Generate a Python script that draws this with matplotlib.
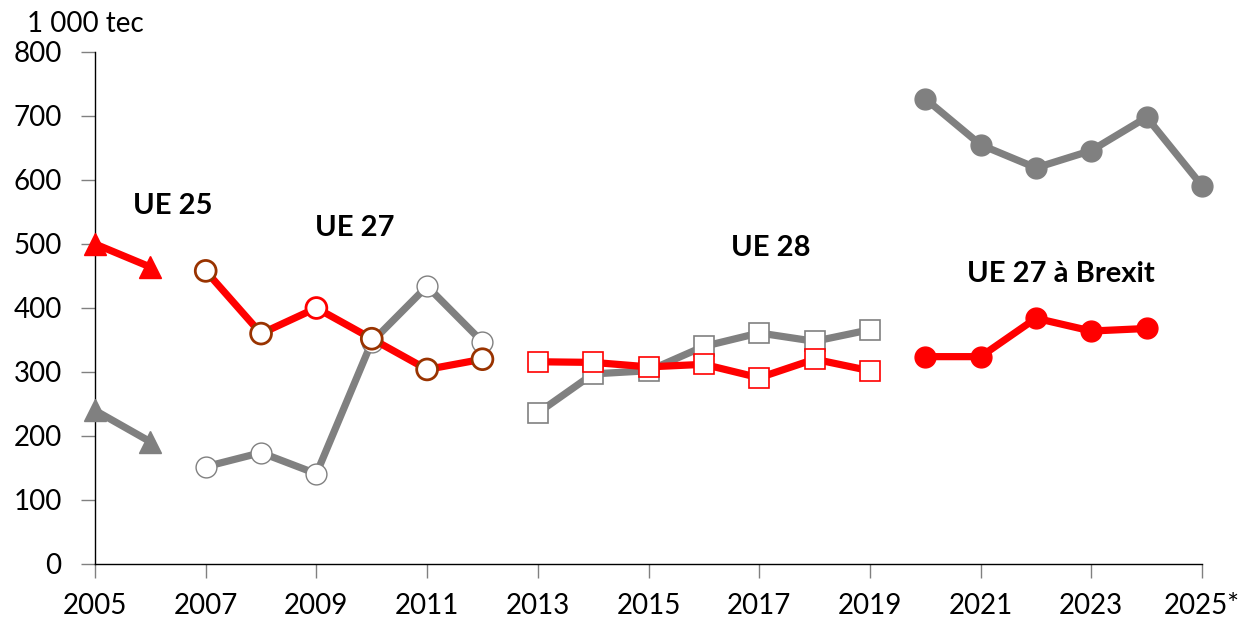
import matplotlib
matplotlib.use("Agg")
import matplotlib.pyplot as plt

plt.rcParams['font.family'] = ['Lato', 'DejaVu Sans']

RED = '#ff0000'
GRAY = '#808080'
BROWN = '#993300'

# UE 25
years_25 = [2005, 2006]
red_25 = [500, 464]
gray_25 = [240, 191]

# UE 27
years_27 = [2007, 2008, 2009, 2010, 2011, 2012]
red_27 = [458, 360, 400, 352, 304, 320]
gray_27 = [152, 174, 141, 347, 434, 347]
red_27_edges = [BROWN, BROWN, RED, BROWN, BROWN, BROWN]

# UE 28
years_28 = [2013, 2014, 2015, 2016, 2017, 2018, 2019]
red_28 = [316, 315, 308, 312, 291, 320, 302]
gray_28 = [236, 297, 302, 340, 361, 348, 366]

# UE 27 after Brexit
years_br_red = [2020, 2021, 2022, 2023, 2024]
red_br = [324, 324, 384, 364, 368]
years_br_gray = [2020, 2021, 2022, 2023, 2024, 2025]
gray_br = [727, 655, 619, 646, 698, 591]

xticks = [2005, 2007, 2009, 2011, 2013, 2015, 2017, 2019, 2021, 2023, 2025]
xticklabels = ['2005', '2007', '2009', '2011', '2013', '2015', '2017', '2019', '2021', '2023', '2025*']
yticks = [0, 100, 200, 300, 400, 500, 600, 700, 800]

fig = plt.figure(figsize=(12.44, 6.21), dpi=100)
ax = fig.add_axes([95/1244, 1-564/621, (1202-95)/1244, (564-52)/621])

lw = 5.2
# UE 25
ax.plot(years_25, gray_25, color=GRAY, lw=lw, marker='^', ms=16, mfc=GRAY, mec=GRAY, clip_on=False, zorder=3)
ax.plot(years_25, red_25, color=RED, lw=lw, marker='^', ms=16, mfc=RED, mec=RED, clip_on=False, zorder=4)

# UE 27
ax.plot(years_27, gray_27, color=GRAY, lw=lw, marker='o', ms=15, mfc='white', mec=GRAY, mew=1, clip_on=False, zorder=3)
ax.plot(years_27, red_27, color=RED, lw=lw, zorder=4)
ax.scatter(years_27, red_27, s=15**2, facecolor='white', edgecolor=red_27_edges, linewidths=2, zorder=5, clip_on=False)

# UE 28
ax.plot(years_28, gray_28, color=GRAY, lw=lw, marker='s', ms=15, mfc='white', mec=GRAY, mew=1.2, clip_on=False, zorder=3)
ax.plot(years_28, red_28, color=RED, lw=lw, marker='s', ms=15, mfc='white', mec=RED, mew=1.2, clip_on=False, zorder=4)

# UE 27 after Brexit
ax.plot(years_br_gray, gray_br, color=GRAY, lw=lw, marker='o', ms=15, mfc=GRAY, mec=GRAY, clip_on=False, zorder=3)
ax.plot(years_br_red, red_br, color=RED, lw=lw, marker='o', ms=15, mfc=RED, mec=RED, clip_on=False, zorder=4)

ax.set_xlim(2005, 2025)
ax.set_ylim(0, 800)
ax.set_xticks(xticks)
ax.set_xticklabels(xticklabels)
ax.set_yticks(yticks)
for s in ['top', 'right']:
    ax.spines[s].set_visible(False)
for s in ['left', 'bottom']:
    ax.spines[s].set_color('black')
    ax.spines[s].set_linewidth(1)
ax.tick_params(axis='both', direction='out', length=10, width=1, color=GRAY, labelsize=20, labelcolor='black')
ax.tick_params(axis='x', pad=11)
ax.tick_params(axis='y', pad=14)

fig.text(85/1244, 1-24/621, '1 000 tec', ha='center', va='center', fontsize=20)

ann = dict(fontsize=21, fontweight='bold', ha='center', va='center', color='black')
ax.text(2006.4, 560, 'UE 25', **ann)
ax.text(2009.7, 525, 'UE 27', **ann)
ax.text(2017.2, 494, 'UE 28', **ann)
ax.text(2022.45, 453, 'UE 27 à Brexit', **ann)

fig.savefig('out.png', dpi=100)
